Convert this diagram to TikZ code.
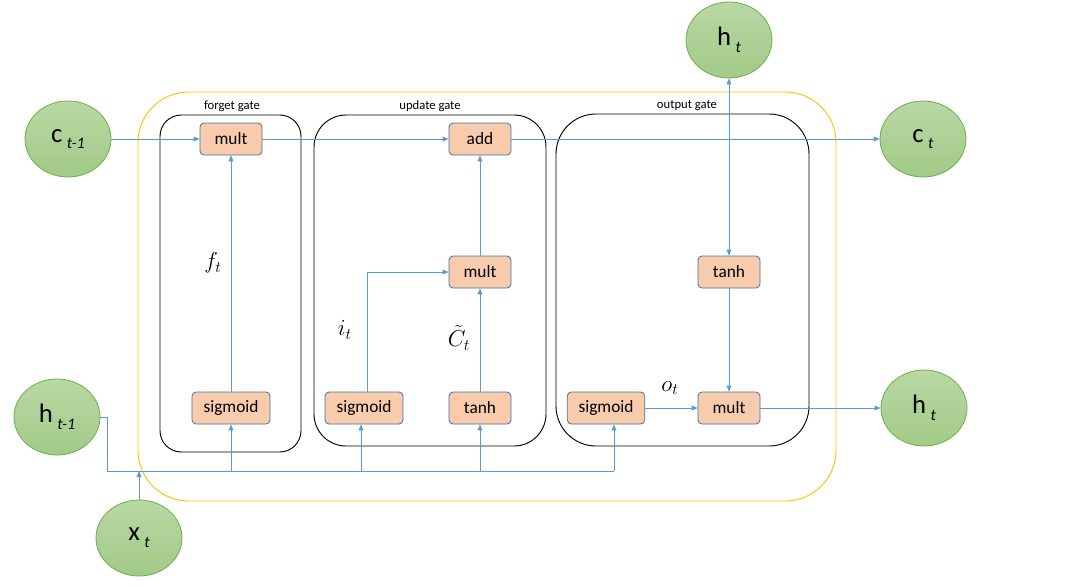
\documentclass[tikz,border=0pt]{standalone}
\usepackage{fontspec}
\setmainfont{Carlito}
\usepackage{amsmath}
\usetikzlibrary{arrows.meta,shapes.geometric,calc}
\definecolor{lsblue}{HTML}{5B9BD5}
\definecolor{lsedge}{HTML}{41719C}
\definecolor{lsorange}{HTML}{F8CBAD}
\definecolor{lsyellow}{HTML}{FFC000}
\definecolor{lsgreen}{HTML}{70AD47}
\definecolor{lsgreentop}{HTML}{B8D8A4}
\definecolor{lsgreenbot}{HTML}{A2CA87}
\tikzset{
  opnode/.style={draw=lsedge, fill=lsorange, rounded corners=3pt, line width=0.6pt,
    minimum width=46.5pt, minimum height=24pt, inner sep=1pt,
    font=\fontsize{13}{14}\selectfont},
  statenode/.style={ellipse, draw=lsgreen, line width=0.6pt,
    top color=lsgreentop, bottom color=lsgreenbot,
    minimum width=64.5pt, minimum height=57pt, inner sep=0pt,
    font=\fontsize{20}{21}\selectfont},
  gatebox/.style={draw=black, line width=0.7pt},
  gatelabel/.style={font=\fontsize{9.5}{10}\selectfont},
  flow/.style={-{Triangle[length=4.5pt,width=3.6pt]}, draw=lsblue, line width=0.6pt},
  mathlabel/.style={font=\fontsize{16.5}{18}\selectfont}
}
\newcommand{\lsub}[1]{\,\raisebox{-5pt}{\fontsize{12}{12}\selectfont\itshape #1}}
\begin{document}
\begin{tikzpicture}[x=0.75pt,y=-0.75pt]
  \useasboundingbox (0,0) rectangle (1070,586);
  % cell and gates
  \draw[lsyellow, line width=0.7pt, rounded corners=38pt] (138,92) rectangle (836,501);
  \draw[gatebox, rounded corners=16pt] (160,115) rectangle (301,452);
  \draw[gatebox, rounded corners=24pt] (314,115) rectangle (546,446);
  \draw[gatebox, rounded corners=30pt] (556,114) rectangle (809,446);
  \node[gatelabel] (lforget) at (232,106) {forget gate};
  \node[gatelabel] (lupdate) at (430,106) {update gate};
  \node[gatelabel] (loutput) at (687,106) {output gate};
  % states
  \node[statenode] (cprev) at (68,139) {c\lsub{t-1}};
  \node[statenode] (hprev) at (57,417) {h\lsub{t-1}};
  \node[statenode] (xt) at (139,538) {x\lsub{t}};
  \node[statenode] (htop) at (729,40) {h\lsub{t}};
  \node[statenode] (cnext) at (923,139) {c\lsub{t}};
  \node[statenode] (hnext) at (924,408) {h\lsub{t}};
  % operations
  \node[opnode] (multf) at (231,139) {mult};
  \node[opnode, minimum width=58.5pt] (sigf) at (231,408) {sigmoid};
  \node[opnode] (add) at (480,139) {add};
  \node[opnode] (multu) at (480,272) {mult};
  \node[opnode, minimum width=58.5pt] (sigu) at (364,408) {sigmoid};
  \node[opnode] (tanhu) at (480,408) {tanh};
  \node[opnode] (tanho) at (729,272) {tanh};
  \node[opnode, minimum width=58pt] (sigo) at (606,408) {sigmoid};
  \node[opnode] (multo) at (729,408) {mult};
  % cell state line
  \draw[flow] (cprev.east) -- (multf.west);
  \draw[flow] (multf.east) -- (add.west);
  \draw[flow] (add.east) -- (cnext.west);
  \coordinate (tap) at (729,139);
  \draw[flow] (tap) -- (htop.south);
  \draw[flow] (tap) -- (tanho.north);
  % gate outputs
  \draw[flow] (sigf.north) -- (multf.south);
  \node[mathlabel] (lft) at (213,263) {$f_t$};
  \draw[flow] ($(sigu.north)+(3,0)$) |- (multu.west);
  \node[mathlabel] (lit) at (345,330) {$i_t$};
  \draw[flow] (tanhu.north) -- (multu.south);
  \node[mathlabel] (lct) at (459,338) {$\tilde{C}_t$};
  \draw[flow] (multu.north) -- (add.south);
  \draw[flow] (sigo.east) -- (multo.west);
  \node[mathlabel] (lot) at (670,388) {$o_t$};
  \draw[flow] (tanho.south) -- (multo.north);
  \draw[flow] (multo.east) -- (hnext.west |- multo.east);
  % input bus
  \coordinate (busl) at (107,471);
  \coordinate (busf) at (231,471);
  \coordinate (busu) at (361,471);
  \coordinate (bust) at (480,471);
  \coordinate (buso) at (614,471);
  \coordinate (busx) at (139,471);
  \draw[lsblue, line width=0.6pt] (hprev.east) -| (busl) -- (buso);
  \draw[flow] (buso) -- (buso |- sigo.south);
  \draw[flow] (busf) -- (sigf.south);
  \draw[flow] (busu) -- (busu |- sigu.south);
  \draw[flow] (bust) -- (tanhu.south);
  \draw[flow] (xt.north) -- (busx);
\end{tikzpicture}
\end{document}
